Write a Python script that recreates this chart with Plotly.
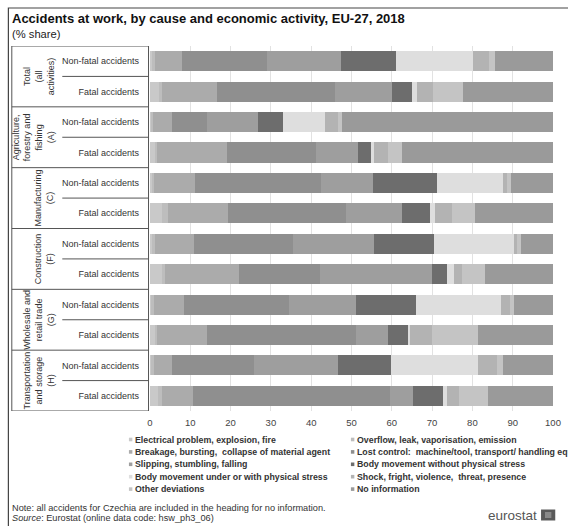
import plotly.graph_objects as go

# ---------------- data ----------------
groups = ["Total<br>(all<br>activities)",
          "Agriculture,<br>forestry and<br>fishing<br>(A)",
          "Manufacturing<br>(C)",
          "Construction<br>(F)",
          "Wholesale and<br>retail trade<br>(G)",
          "Transportation<br>and storage<br>(H)"]
accident_types = ["Non-fatal accidents", "Fatal accidents"]

cause_names = ["Electrical problem, explosion, fire",
               "Overflow, leak, vaporisation, emission",
               "Breakage, bursting,  collapse of material agent",
               "Lost control:  machine/tool, transport/ handling equipment",
               "Slipping, stumbling, falling",
               "Body movement without physical stress",
               "Body movement under or with physical stress",
               "Shock, fright, violence,  threat, presence",
               "Other deviations",
               "No information"]

# rows: Total NF, Total F, Agri NF, Agri F, Manuf NF, Manuf F,
#       Constr NF, Constr F, Trade NF, Trade F, Transp NF, Transp F
electrical   = [0.4, 2.2, 0.3, 1.2, 0.4, 3.0, 0.5, 3.0, 0.3, 1.2, 0.3, 2.0]
overflow     = [0.8, 0.8, 0.5, 0.5, 0.7, 1.5, 0.7, 0.6, 0.6, 0.5, 0.6, 1.0]
breakage     = [6.8, 13.5, 4.6, 17.5, 10.0, 14.9, 9.6, 18.6, 7.6, 12.4, 4.6, 7.6]
lost_control = [21.1, 29.4, 8.8, 22.0, 31.3, 29.2, 24.7, 19.9, 26.1, 37.1, 20.2, 48.9]
slipping     = [18.3, 14.2, 12.7, 10.5, 13.0, 14.0, 20.2, 27.8, 16.6, 7.9, 21.0, 5.7]
body_without = [13.7, 4.8, 6.0, 3.2, 15.7, 6.8, 14.7, 3.8, 14.7, 5.1, 13.1, 7.5]
body_under   = [19.1, 1.4, 10.4, 0.7, 16.4, 1.4, 19.9, 1.8, 21.3, 0.2, 21.5, 1.0]
shock        = [3.8, 4.0, 3.4, 3.5, 1.0, 4.2, 0.7, 1.9, 2.1, 5.5, 4.8, 3.0]
other        = [1.7, 7.3, 1.0, 3.5, 1.0, 5.7, 1.1, 5.8, 0.9, 11.5, 1.6, 7.2]
no_info      = [14.3, 22.4, 52.3, 37.4, 10.5, 19.3, 7.9, 16.8, 9.8, 18.6, 12.3, 16.1]

x_ticks = [0, 10, 20, 30, 40, 50, 60, 70, 80, 90, 100]

# ---------------- style ----------------
colors = ["#c9c9c9", "#bdbdbd", "#ababab", "#8f8f8f", "#9e9e9e",
          "#6d6d6d", "#dedede", "#b3b3b3", "#c4c4c4", "#9a9a9a"]
FONT = "Liberation Sans, Arial, sans-serif"

W, H = 568, 526
PL, PR, PT, PB = 149.5, 560.7, 46.0, 411.0


def fx(px):
    return (px - PL) / (PR - PL)


def fy(py):
    return (PB - py) / (PB - PT)


series = [electrical, overflow, breakage, lost_control, slipping,
          body_without, body_under, shock, other, no_info]
n_rows = len(groups) * len(accident_types)
rows = list(range(n_rows))
row_labels = [accident_types[i % 2] for i in rows]

fig = go.Figure()
for name, vals, c in zip(cause_names, series, colors):
    fig.add_trace(go.Bar(x=vals, y=rows, orientation="h", name=name,
                         marker=dict(color=c, line=dict(width=0)),
                         showlegend=False))

shapes = []
annotations = []
LC = "#555555"
# outer frame
shapes.append(dict(type="rect", xref="paper", yref="paper",
                   x0=fx(5), x1=fx(600), y0=fy(8), y1=fy(560),
                   line=dict(color="#444444", width=1.2), layer="above"))
# category box
for k in range(len(groups) + 1):
    yv = -0.5 + 2 * k
    shapes.append(dict(type="line", xref="paper", yref="y", x0=fx(8.5), x1=fx(148),
                       y0=yv, y1=yv, line=dict(color=LC, width=1)))
for k in range(len(groups)):
    yv = 0.5 + 2 * k
    shapes.append(dict(type="line", xref="paper", yref="y", x0=fx(60), x1=fx(148),
                       y0=yv, y1=yv, line=dict(color=LC, width=1)))
for xv in (8.5, 148):
    shapes.append(dict(type="line", xref="paper", yref="y", x0=fx(xv), x1=fx(xv),
                       y0=-0.5, y1=n_rows - 0.5, line=dict(color=LC, width=1)))

# group labels (rotated)
for k, g in enumerate(groups):
    annotations.append(dict(text=g, textangle=-90, xref="paper", yref="y",
                            x=fx(55), y=0.5 + 2 * k, xanchor="right", yanchor="middle",
                            showarrow=False, align="center",
                            font=dict(family=FONT, size=9, color="#333333")))

# title / subtitle
annotations.append(dict(text="<b>Accidents at work, by cause and economic activity, EU-27, 2018</b>",
                        xref="paper", yref="paper", x=fx(7), y=fy(19),
                        xanchor="left", yanchor="middle", showarrow=False,
                        font=dict(family=FONT, size=13, color="#111111")))
annotations.append(dict(text="(% share)", xref="paper", yref="paper", x=fx(7), y=fy(33.5),
                        xanchor="left", yanchor="middle", showarrow=False,
                        font=dict(family=FONT, size=11.2, color="#222222")))

# legend (two columns, row-major)
for i, (name, c) in enumerate(zip(cause_names, colors)):
    col, r = i % 2, i // 2
    tx = 132.5 if col == 0 else 359
    ty = 439.5 + 12.4 * r
    shapes.append(dict(type="rect", xref="paper", yref="paper",
                       x0=fx(tx - 4.5), x1=fx(tx - 1), y0=fy(ty + 1.8), y1=fy(ty - 1.8),
                       fillcolor=c, line=dict(width=0)))
    annotations.append(dict(text="<b>" + name + "</b>", xref="paper", yref="paper",
                            x=fx(tx), y=fy(ty), xanchor="left", yanchor="middle",
                            showarrow=False,
                            font=dict(family=FONT, size=8.8, color="#333333")))

# notes
annotations.append(dict(text="Note: all accidents for Czechia are included in the heading for no information.",
                        xref="paper", yref="paper", x=fx(7), y=fy(508),
                        xanchor="left", yanchor="middle", showarrow=False,
                        font=dict(family=FONT, size=9.2, color="#333333")))
annotations.append(dict(text="<i>Source</i>: Eurostat (online data code: hsw_ph3_06)",
                        xref="paper", yref="paper", x=fx(7), y=fy(518),
                        xanchor="left", yanchor="middle", showarrow=False,
                        font=dict(family=FONT, size=9.2, color="#333333")))
# eurostat logo
annotations.append(dict(text="eurostat", xref="paper", yref="paper", x=fx(546), y=fy(515),
                        xanchor="right", yanchor="middle", showarrow=False,
                        font=dict(family=FONT, size=13.5, color="#555555")))
shapes.append(dict(type="rect", xref="paper", yref="paper",
                   x0=fx(548.5), x1=fx(563), y0=fy(520.5), y1=fy(509.5),
                   fillcolor="#5a5a5a", line=dict(width=0)))
shapes.append(dict(type="rect", xref="paper", yref="paper",
                   x0=fx(552.5), x1=fx(559), y0=fy(518), y1=fy(512),
                   fillcolor="#8a8a8a", line=dict(width=0)))

fig.update_layout(
    width=W, height=H,
    margin=dict(l=PL, r=W - PR, t=PT, b=H - PB, pad=0),
    barmode="stack", bargap=0.34,
    paper_bgcolor="white", plot_bgcolor="white",
    font=dict(family=FONT, size=9, color="#333333"),
    xaxis=dict(range=[0, 100], tickvals=x_ticks, ticktext=[str(v) for v in x_ticks],
               showgrid=True, gridcolor="#e2e2e2", gridwidth=1, zeroline=False,
               showline=False, ticks="", ticklabelstandoff=4,
               ticklabeloverflow="allow",
               tickfont=dict(size=9.5, color="#444444"),
               fixedrange=True),
    yaxis=dict(range=[n_rows - 0.5, -0.5], tickvals=rows, ticktext=row_labels,
               showgrid=False, zeroline=False, showline=False, ticks="",
               ticklabelstandoff=10, tickfont=dict(size=9, color="#333333"),
               fixedrange=True),
    shapes=shapes, annotations=annotations,
)

fig.write_html("out.html")
